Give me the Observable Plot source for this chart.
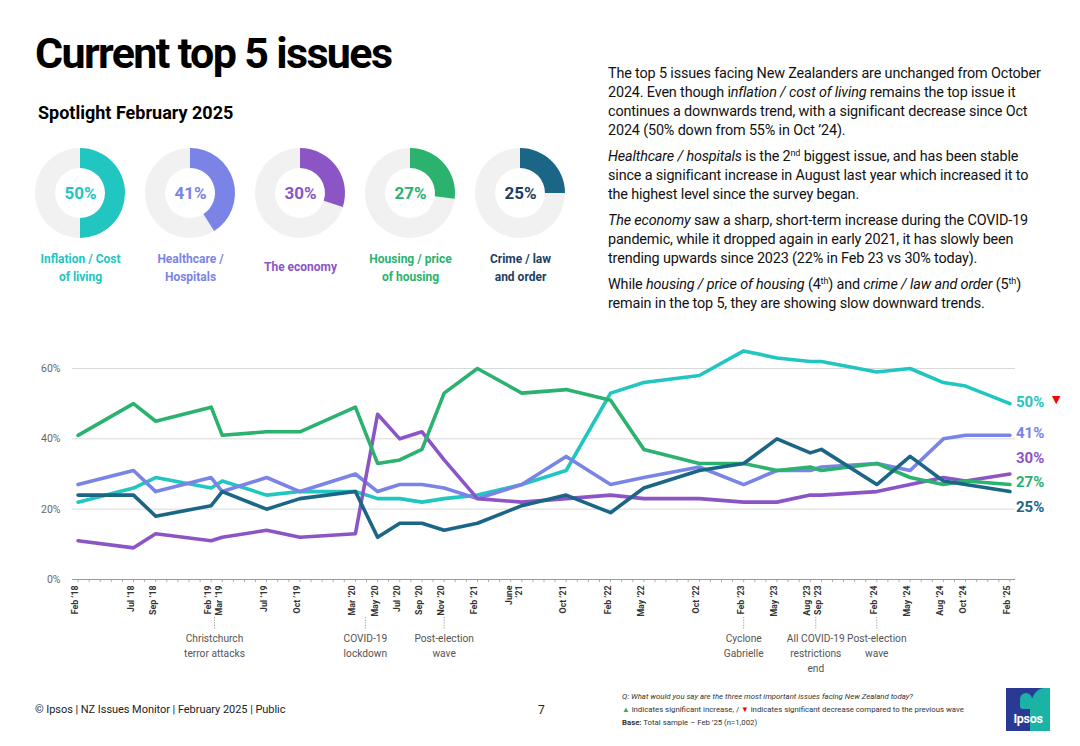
<!DOCTYPE html>
<html>
<head>
<meta charset="utf-8">
<script src="https://cdn.jsdelivr.net/npm/d3@7"></script>
<script src="https://cdn.jsdelivr.net/npm/@observablehq/plot@0.6"></script>
<style>
  html, body { margin: 0; padding: 0; }
  body { width: 1080px; height: 746px; position: relative; overflow: hidden; background: #fff; font-family: Roboto, "Noto Sans", sans-serif; color: #111; }
  .abs { position: absolute; white-space: nowrap; }
  #title { left: 35px; top: 32px; font-size: 43px; line-height: 43px; font-weight: 700; letter-spacing: -1.65px; color: #000; }
  #spot { left: 38px; top: 102px; font-size: 18px; line-height: 22px; font-weight: 700; letter-spacing: 0; color: #000; }
  #para { left: 608px; top: 64px; font-size: 14.4px; line-height: 19px; color: #111; letter-spacing: -0.15px; }
  #para p { margin: 0 0 7px 0; }
  #para sup { font-size: 9px; line-height: 0; vertical-align: 5px; }
  #donuts { left: 0; top: 140px; }
  #chart { left: 0; top: 340px; }
  #foot { left: 35px; top: 702px; font-size: 11px; line-height: 16px; letter-spacing: -0.05px; color: #222; }
  #page { left: 538px; top: 702px; font-size: 12px; line-height: 16px; color: #222; }
  #notes { left: 622px; top: 690px; font-size: 7.8px; line-height: 13px; color: #333; letter-spacing: 0; }
  #logo { left: 1006px; top: 688px; width: 44px; height: 43px; background: #2a3a94; overflow: hidden; }
  #logo .teal { position: absolute; right: 0; top: 0; width: 20px; height: 43px; background: #1cb3a7; border-top-left-radius: 14px 22px; }
  #logo .head { position: absolute; left: 14px; top: 5px; width: 12px; height: 16px; background: #1cb3a7; border-radius: 6px 6px 3px 3px; }
  #logo .txt { position: absolute; left: 0; width: 44px; top: 23px; text-align: center; font-size: 12.5px; font-weight: 700; color: #fff; letter-spacing: -0.3px; }
</style>
</head>
<body>
<div id="title" class="abs">Current top 5 issues</div>
<div id="spot" class="abs">Spotlight February 2025</div>
<div id="para" class="abs">
  <p>The top 5 issues facing New Zealanders are unchanged from October<br>2024. Even though i<i>nflation / cost of living</i> remains the top issue it<br>continues a downwards trend, with a significant decrease since Oct<br>2024 (50% down from 55% in Oct ’24).</p>
  <p><i>Healthcare / hospitals</i> is the 2<sup>nd</sup> biggest issue, and has been stable<br>since a significant increase in August last year which increased it to<br>the highest level since the survey began.</p>
  <p><i>The economy</i> saw a sharp, short-term increase during the COVID-19<br>pandemic, while it dropped again in early 2021, it has slowly been<br>trending upwards since 2023 (22% in Feb 23 vs 30% today).</p>
  <p>While <i>housing / price of housing</i> (4<sup>th</sup>) and <i>crime / law and order</i> (5<sup>th</sup>)<br>remain in the top 5, they are showing slow downward trends.</p>
</div>
<div id="donuts" class="abs"></div>
<div id="chart" class="abs"></div>
<div id="foot" class="abs">© Ipsos | NZ Issues Monitor | February 2025 | Public</div>
<div id="page" class="abs">7</div>
<div id="notes" class="abs">
  <i>Q: What would you say are the three most important issues facing New Zealand today?</i><br>
  <span style="color:#2aae63">▲</span> indicates significant increase, / <span style="color:#e00">▼</span> indicates significant decrease compared to the previous wave<br>
  <b>Base:</b> Total sample – Feb ’25 (n=1,002)
</div>
<div id="logo" class="abs"><div class="teal"></div><div class="head"></div><div class="txt">Ipsos</div></div>

<script>
// ---------- data ----------
const issues = ["Inflation / Cost of living", "Healthcare / Hospitals", "The economy", "Housing / price of housing", "Crime / law and order"];
const issueColors = ["#22c6c1", "#7a84e6", "#8b55c6", "#2ab26e", "#1b6587"];
const donutTextColors = ["#22c6c1", "#7a84e6", "#8b55c6", "#2ab26e", "#1d3f5f"];
const donutLabels = ["Inflation / Cost\nof living", "Healthcare /\nHospitals", "The economy", "Housing / price\nof housing", "Crime / law\nand order"];
const spotlightValues = [50, 41, 30, 27, 25];
const significance = ["down", null, null, null, null];

const waves = ["2018-02","2018-07","2018-09","2019-02","2019-03","2019-07","2019-10","2020-03","2020-05","2020-07","2020-09","2020-11","2021-02","2021-06","2021-10","2022-02","2022-05","2022-10","2023-02","2023-05","2023-08","2023-09","2024-02","2024-05","2024-08","2024-10","2025-02"];
const waveLabels = ["Feb ’18","Jul ’18","Sep ’18","Feb ’19","Mar ’19","Jul ’19","Oct ’19","Mar ’20","May ’20","Jul ’20","Sep ’20","Nov ’20","Feb ’21","June\n’21","Oct ’21","Feb ’22","May ’22","Oct ’22","Feb ’23","May ’23","Aug ’23","Sep ’23","Feb ’24","May ’24","Aug ’24","Oct ’24","Feb ’25"];

const inflation  = [22,26,29,26,28,24,25,25,23,23,22,23,24,27,31,53,56,58,65,63,62,62,59,60,56,55,50];
const healthcare = [27,31,25,29,25,29,25,30,25,27,27,26,23,27,35,27,29,32,27,31,31,32,33,31,40,41,41];
const economy    = [11,9,13,11,12,14,12,13,47,40,42,34,23,22,23,24,23,23,22,22,24,24,25,27,29,28,30];
const housing    = [41,50,45,49,41,42,42,49,33,34,37,53,60,53,54,51,37,33,33,31,32,31,33,29,27,28,27];
const crime      = [24,24,18,21,25,20,23,25,12,16,16,14,16,21,24,19,26,31,33,40,36,37,27,35,28,27,25];

const eventDates = ["2019-02-10","2020-03-28","2020-11-01","2023-02-01","2023-08-16","2024-02-01"];
const eventTexts = ["Christchurch\nterror attacks","COVID-19\nlockdown","Post-election\nwave","Cyclone\nGabrielle","All COVID-19\nrestrictions\nend","Post-election\nwave"];

const yTicks = [0, 20, 40, 60];

// ---------- helpers ----------
function monthIndex(s) {
  const [y, m, d] = s.split("-").map(Number);
  return (y - 2018) * 12 + (m - 2) + (d ? (d - 1) / 30 : 0);
}
const seriesValues = [inflation, healthcare, economy, housing, crime];
const long = [];
issues.forEach((issue, k) => seriesValues[k].forEach((v, i) => long.push({issue, m: monthIndex(waves[i]), value: v})));
const waveData = waves.map((w, i) => ({m: monthIndex(w), label: waveLabels[i]}));
const events = eventDates.map((d, i) => ({m: monthIndex(d), text: eventTexts[i]}));
const allMonths = d3.range(0, monthIndex(waves[waves.length - 1]) + 1);

// end labels with simple collision avoidance (in data units)
const last = issues.map((issue, k) => ({issue, m: monthIndex(waves[waves.length - 1]), value: seriesValues[k][seriesValues[k].length - 1], sig: significance[k]}));
{
  const gap = 7;
  const sorted = [...last].sort((a, b) => a.value - b.value);
  let groups = sorted.map(d => ({items: [d], center: d.value}));
  let changed = true;
  const span = g => (g.items.length - 1) * gap;
  while (changed) {
    changed = false;
    for (let i = 0; i < groups.length - 1; i++) {
      const a = groups[i], b = groups[i + 1];
      const aTop = a.center + span(a) / 2, bBot = b.center - span(b) / 2;
      if (bBot - aTop < gap) {
        const items = a.items.concat(b.items);
        const center = d3.mean(items, d => d.value);
        groups.splice(i, 2, {items, center});
        changed = true; break;
      }
    }
  }
  groups.forEach(g => g.items.forEach((d, j) => d.labelY = g.center - span(g) / 2 + j * gap));
}

// ---------- donuts ----------
const spot = issues.map((issue, i) => ({issue, value: spotlightValues[i], label: donutLabels[i], color: issueColors[i], textColor: donutTextColors[i], multi: donutLabels[i].includes("\n")}));
const donutPlot = Plot.plot({
  width: 600, height: 150,
  marginLeft: 24, marginRight: 25, marginTop: 0, marginBottom: 44,
  x: {type: "point", domain: issues, padding: 0.5, axis: null},
  color: {type: "identity"},
  style: {fontFamily: "Roboto, sans-serif", background: "transparent", overflow: "visible"},
  marks: [
    Plot.dot(spot, {
      x: "issue", r: 0,
      render: (index, scales, values, dimensions) => {
        const g = d3.create("svg:g");
        const cy = dimensions.marginTop + (dimensions.height - dimensions.marginTop - dimensions.marginBottom) / 2;
        const arc = d3.arc().innerRadius(25).outerRadius(45);
        for (const i of index) {
          const cx = values.x[i];
          const gg = g.append("g").attr("transform", `translate(${cx},${cy})`);
          gg.append("path").attr("d", arc({startAngle: 0, endAngle: 2 * Math.PI})).attr("fill", "#f1f1f1");
          gg.append("path").attr("d", arc({startAngle: 0, endAngle: 2 * Math.PI * spot[i].value / 100})).attr("fill", spot[i].color);
        }
        return g.node();
      }
    }),
    Plot.text(spot, {x: "issue", text: d => d.value + "%", fill: "textColor", fontSize: 17, fontWeight: 700}),
    Plot.text(spot.filter(d => d.multi), {x: "issue", text: "label", fill: "textColor", fontSize: 12, fontWeight: 700, frameAnchor: "bottom", dy: 34, lineHeight: 1.5}),
    Plot.text(spot.filter(d => !d.multi), {x: "issue", text: "label", fill: "textColor", fontSize: 12, fontWeight: 700, frameAnchor: "bottom", dy: 24, lineHeight: 1.5})
  ]
});
document.getElementById("donuts").appendChild(donutPlot);

// ---------- line chart ----------
const chart = Plot.plot({
  width: 1080, height: 335,
  marginLeft: 72, marginRight: 65, marginTop: 28, marginBottom: 96,
  x: {domain: [-0.5, 84.5], axis: null},
  y: {domain: [0, 60], axis: null},
  color: {domain: issues, range: issueColors},
  style: {fontFamily: "Roboto, sans-serif", background: "transparent", overflow: "visible"},
  marks: [
    Plot.ruleY(yTicks.filter(d => d > 0), {stroke: "#d9d9d9", strokeWidth: 1}),
    Plot.axisY({ticks: yTicks, tickSize: 0, tickPadding: 12, tickFormat: d => d + "%", fontSize: 10.5, color: "#666"}),
    Plot.ruleX(allMonths, {x: d => d, y1: 0, y2: -0.9, stroke: "#9a9a9a", strokeWidth: 0.8}),
    Plot.ruleY([0], {stroke: "#9a9a9a", strokeWidth: 1}),
    Plot.line(long, {x: "m", y: "value", stroke: "issue", strokeWidth: 3.6, strokeLinejoin: "round", strokeLinecap: "round"}),
    Plot.text(waveData, {x: "m", text: "label", frameAnchor: "bottom", rotate: -90, textAnchor: "end", dy: 6, fontSize: 8.8, fontWeight: 700, fill: "#333", lineHeight: 1.15}),
    Plot.ruleX(events, {x: "m", y1: -10.9, y2: -14.4, stroke: "#888", strokeWidth: 1, strokeDasharray: "1,1.5"}),
    Plot.text(events, {x: "m", text: "text", frameAnchor: "bottom", lineAnchor: "top", dy: 52, fontSize: 10.2, fill: "#555", lineHeight: 1.45}),
    Plot.text(last, {x: "m", y: "labelY", text: d => d.value + "%", fill: "issue", textAnchor: "start", dx: 6, dy: -1, fontSize: 15, fontWeight: 700}),
    Plot.text(last.filter(d => d.sig === "down"), {x: "m", y: "labelY", text: () => "▼", fill: "#ff0000", textAnchor: "start", dx: 42, dy: -4, fontSize: 11, fontFamily: "DejaVu Sans"})
  ]
});
document.getElementById("chart").appendChild(chart);
</script>
</body>
</html>
